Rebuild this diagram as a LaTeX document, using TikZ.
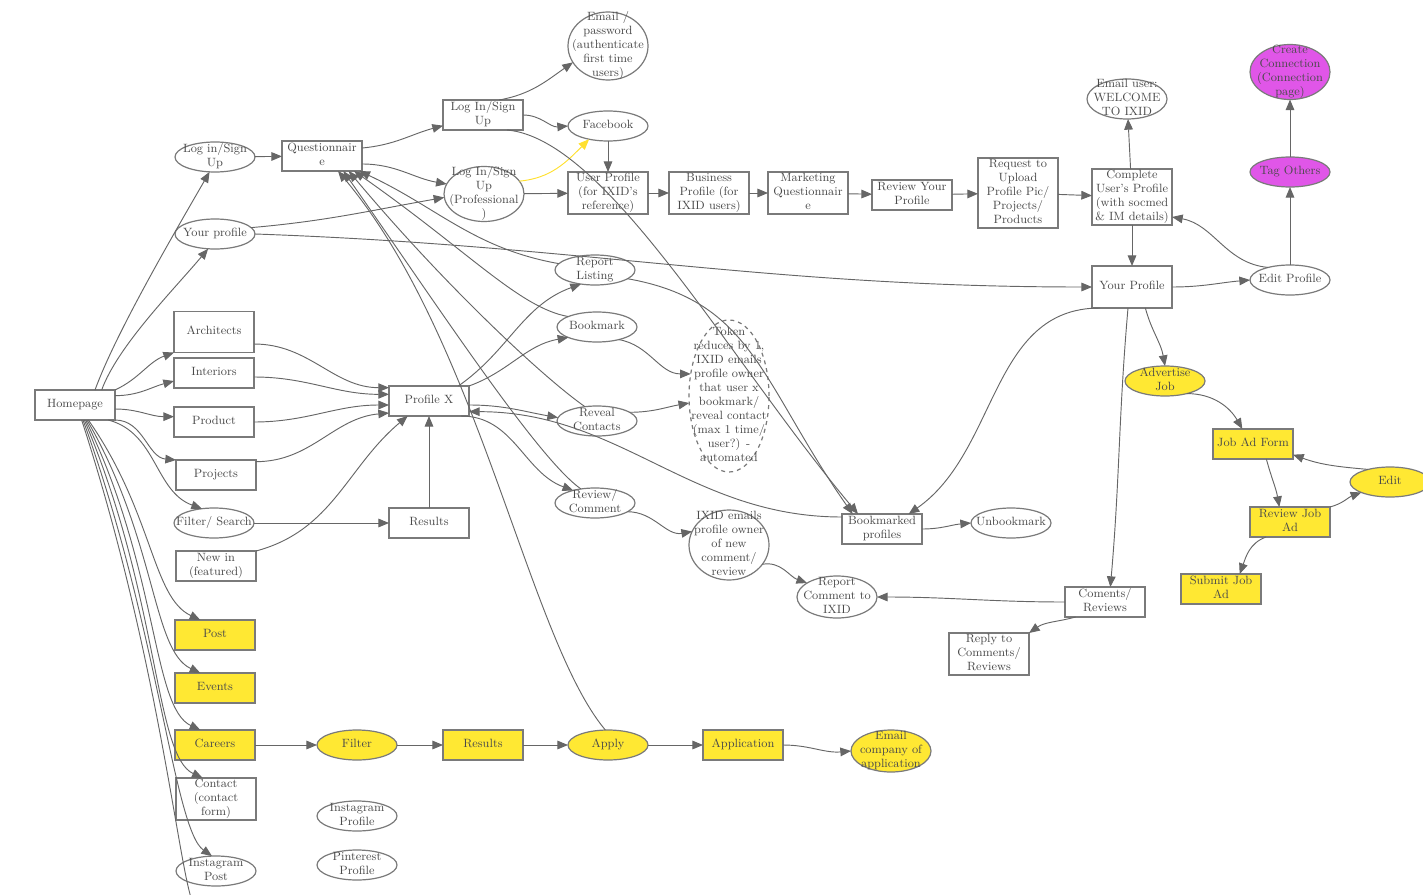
\documentclass[tikz,border=0pt]{standalone}
\usepackage{tikz}
\usetikzlibrary{arrows.meta,shapes.geometric}

\definecolor{TextGray}{HTML}{4A4A4A}
\definecolor{LineGray}{HTML}{7A7A7A}
\definecolor{EdgeGray}{HTML}{666666}
\definecolor{JobYellow}{HTML}{FFE833}
\definecolor{EdgeYellow}{HTML}{FFE030}
\definecolor{TagPink}{HTML}{E056E8}

\newcommand{\nodetext}[1]{\raisebox{-2.3pt}[0pt][0pt]{\makebox[0pt]{\begin{tabular}{@{}c@{}}#1\end{tabular}}}}

\begin{document}
\begin{tikzpicture}[x=0.75pt,y=-0.75pt]
  \tikzset{BoxStyle/.style = {
    shape          = rectangle,
    draw           = LineGray,
    fill           = white,
    line width     = 0.9pt,
    text           = TextGray,
    inner sep      = 0pt,
    outer sep      = 0pt,
    minimum width  = 60pt,
    minimum height = 22.5pt,
    font           = \fontsize{9}{10.5}\selectfont
    }
  }
  \tikzset{OvalStyle/.style  = {BoxStyle, shape = ellipse}}
  \tikzset{YellowBox/.style  = {BoxStyle, fill = JobYellow}}
  \tikzset{YellowOval/.style = {OvalStyle, fill = JobYellow}}
  \tikzset{PinkOval/.style   = {OvalStyle, fill = TagPink}}
  \tikzset{DashOval/.style   = {OvalStyle, dashed}}
  \tikzset{EdgeStyle/.style = {
    draw            = EdgeGray,
    line width      = 0.7pt,
    -{Triangle[length=8pt,width=6.5pt]}
    }
  }
  \tikzset{YellowEdge/.style = {EdgeStyle, draw = EdgeYellow}}

  \useasboundingbox (0,0) rectangle (1423,895);

  % left column
  \node[BoxStyle](Home) at (75, 405) {\nodetext{Homepage}};
  \node[OvalStyle](LogInLeft) at (215, 157) {\nodetext{Log in/Sign\\Up}};
  \node[BoxStyle](Quest) at (322, 156) {\nodetext{Questionnair\\e}};
  \node[OvalStyle](ProfileLeft) at (215, 234) {\nodetext{Your profile}};
  \node[BoxStyle, minimum height=30.75pt](Arch) at (214, 332) {\nodetext{Architects}};
  \node[BoxStyle](Inter) at (214, 373) {\nodetext{Interiors}};
  \node[BoxStyle](Prod) at (214, 422) {\nodetext{Product}};
  \node[BoxStyle](Proj) at (216, 475) {\nodetext{Projects}};
  \node[OvalStyle](Search) at (214, 523) {\nodetext{Filter/ Search}};
  \node[BoxStyle](NewIn) at (216, 566) {\nodetext{New in\\(featured)}};
  \node[YellowBox](Post) at (215, 635) {\nodetext{Post}};
  \node[YellowBox](Events) at (215, 688) {\nodetext{Events}};
  \node[YellowBox](Careers) at (215, 745) {\nodetext{Careers}};
  \node[BoxStyle, minimum height=31.5pt](Contact) at (216, 799) {\nodetext{Contact\\(contact\\form)}};
  \node[OvalStyle](InstaPost) at (216, 871) {\nodetext{Instagram\\Post}};
  \coordinate (OffPage) at (196, 912);

  % careers row
  \node[YellowOval](JobFilter) at (357, 745) {\nodetext{Filter}};
  \node[YellowBox](JobResults) at (483, 745) {\nodetext{Results}};
  \node[YellowOval](Apply) at (608, 745) {\nodetext{Apply}};
  \node[YellowBox](Application) at (743, 745) {\nodetext{Application}};
  \node[YellowOval, minimum height=31.5pt](EmailCompany) at (891, 751) {\nodetext{Email\\company of\\application}};
  \node[OvalStyle](InstaProfile) at (357, 816) {\nodetext{Instagram\\Profile}};
  \node[OvalStyle](PinProfile) at (357, 865) {\nodetext{Pinterest\\Profile}};

  % sign up row
  \node[BoxStyle](LogInBox) at (483, 115) {\nodetext{Log In/Sign\\Up}};
  \node[OvalStyle, minimum height=51pt](EmailPass) at (608, 46) {\nodetext{Email /\\password\\(authenticate\\first time\\users)}};
  \node[OvalStyle](Facebook) at (608, 126) {\nodetext{Facebook}};
  \node[OvalStyle, minimum height=41.25pt](LogInPro) at (484, 194) {\nodetext{Log In/Sign\\Up\\(Professional\\)}};
  \node[BoxStyle, minimum height=31.5pt](UserProfile) at (608, 193) {\nodetext{User Profile\\(for IXID's\\reference)}};
  \node[BoxStyle, minimum height=31.5pt](BizProfile) at (709, 193) {\nodetext{Business\\Profile (for\\IXID users)}};
  \node[BoxStyle, minimum height=31.5pt](MarketQuest) at (808, 193) {\nodetext{Marketing\\Questionnair\\e}};
  \node[BoxStyle](ReviewProfile) at (912, 195) {\nodetext{Review Your\\Profile}};
  \node[BoxStyle, minimum height=52.5pt](Upload) at (1018, 193) {\nodetext{Request to\\Upload\\Profile Pic/\\Projects/\\Products}};
  \node[BoxStyle, minimum height=42pt](Complete) at (1132, 197) {\nodetext{Complete\\User's Profile\\(with socmed\\\& IM details)}};
  \node[OvalStyle, minimum height=30pt](Welcome) at (1127, 99) {\nodetext{Email user:\\WELCOME\\TO IXID}};
  \node[PinkOval, minimum height=41.25pt](Connect) at (1290, 72) {\nodetext{Create\\Connection\\(Connection\\page)}};
  \node[PinkOval](TagOthers) at (1290, 172) {\nodetext{Tag Others}};
  \node[BoxStyle, minimum height=31.5pt](YourProfile) at (1132, 287) {\nodetext{Your Profile}};
  \node[OvalStyle](EditProfile) at (1290, 280) {\nodetext{Edit Profile}};

  % profile actions
  \node[OvalStyle](ReportListing) at (595, 270) {\nodetext{Report\\Listing}};
  \node[OvalStyle](Bookmark) at (597, 327) {\nodetext{Bookmark}};
  \node[BoxStyle](ProfileX) at (429, 401) {\nodetext{Profile X}};
  \node[OvalStyle](Reveal) at (597, 421) {\nodetext{Reveal\\Contacts}};
  \node[OvalStyle](Review) at (595, 503) {\nodetext{Review/\\Comment}};
  \node[BoxStyle](Results) at (429, 523) {\nodetext{Results}};
  \node[DashOval, minimum height=114pt](Token) at (729, 396) {\nodetext{Token\\reduces by 1,\\IXID emails\\profile owner\\that user x\\bookmark/\\reveal contact\\(max 1 time/\\user?) -\\automated}};
  \node[OvalStyle, minimum height=52.5pt](EmailOwner) at (729, 545) {\nodetext{IXID emails\\profile owner\\of new\\comment/\\review}};
  \node[BoxStyle](Bookmarked) at (882, 529) {\nodetext{Bookmarked\\profiles}};
  \node[OvalStyle](Unbookmark) at (1011, 523) {\nodetext{Unbookmark}};
  \node[OvalStyle, minimum height=31.5pt](ReportComment) at (837, 597) {\nodetext{Report\\Comment to\\IXID}};
  \node[BoxStyle](Comments) at (1105, 602) {\nodetext{Coments/\\Reviews}};
  \node[BoxStyle, minimum height=31.5pt](Reply) at (989, 654) {\nodetext{Reply to\\Comments/\\Reviews}};

  % job ads
  \node[YellowOval](Advertise) at (1165, 381) {\nodetext{Advertise\\Job}};
  \node[YellowBox](JobForm) at (1253, 444) {\nodetext{Job Ad Form}};
  \node[YellowOval](EditJob) at (1390, 482) {\nodetext{Edit}};
  \node[YellowBox](ReviewJob) at (1290, 522) {\nodetext{Review Job\\Ad}};
  \node[YellowBox](SubmitJob) at (1221, 589) {\nodetext{Submit Job\\Ad}};

  % homepage fan
  \draw[EdgeStyle] ([xshift=15pt]Home.north) to[out=70, in=240, out distance=45pt, in distance=55pt] (LogInLeft.250);
  \draw[EdgeStyle] ([xshift=20pt]Home.north) to[out=70, in=230, out distance=35pt, in distance=40pt] (ProfileLeft.245);
  \draw[EdgeStyle] (Home.north east) to[out=25, in=200] (Arch.south west);
  \draw[EdgeStyle] ([yshift=7pt]Home.east) to[out=0, in=195] ([yshift=-6pt]Inter.west);
  \draw[EdgeStyle] ([yshift=-3pt]Home.east) to[out=0, in=180] ([yshift=4pt]Prod.west);
  \draw[EdgeStyle] (Home.south east) to[out=0, in=175] (Proj.north west);
  \draw[EdgeStyle] ([xshift=-5pt]Home.south east) to[out=-15, in=160] (Search.130);
  \draw[EdgeStyle] ([xshift=10pt]Home.south) to[out=-55, in=155, out distance=85pt, in distance=40pt] ([xshift=-11pt]Post.north);
  \draw[EdgeStyle] ([xshift=9pt]Home.south) to[out=-60, in=155, out distance=105pt, in distance=40pt] ([xshift=-11pt]Events.north);
  \draw[EdgeStyle] ([xshift=8pt]Home.south) to[out=-64, in=155, out distance=125pt, in distance=40pt] ([xshift=-11pt]Careers.north);
  \draw[EdgeStyle] ([xshift=7pt]Home.south) to[out=-67, in=155, out distance=145pt, in distance=40pt] ([xshift=-10pt]Contact.north);
  \draw[EdgeStyle] ([xshift=6pt]Home.south) to[out=-70, in=145, out distance=165pt, in distance=35pt] (InstaPost.105);
  \draw[EdgeStyle] ([xshift=5pt]Home.south) to[out=-72, in=110, out distance=185pt, in distance=40pt] (OffPage);

  % into profile X
  \draw[EdgeStyle] ([yshift=-9pt]Arch.east) to[out=0, in=180] ([yshift=10pt]ProfileX.west);
  \draw[EdgeStyle] ([yshift=-3pt]Inter.east) to[out=0, in=180] ([yshift=5pt]ProfileX.west);
  \draw[EdgeStyle] (Prod.east) to[out=0, in=180] ([yshift=-3pt]ProfileX.west);
  \draw[EdgeStyle] ([yshift=10pt]Proj.east) to[out=0, in=185] ([yshift=-9pt]ProfileX.west);
  \draw[EdgeStyle] (NewIn.north east) to[out=15, in=220] ([xshift=-16pt]ProfileX.south);
  \draw[EdgeStyle] (Search) -- (Results);
  \draw[EdgeStyle] (Results) -- (ProfileX);

  % out of profile X
  \draw[EdgeStyle] ([xshift=22pt]ProfileX.north) to[out=35, in=200] (ReportListing.225);
  \draw[EdgeStyle] (ProfileX.north east) to[out=20, in=190] (Bookmark.200);
  \draw[EdgeStyle] ([yshift=-3pt]ProfileX.east) to[out=0, in=170] (Reveal.175);
  \draw[EdgeStyle] ([xshift=24pt]ProfileX.south) to[out=0, in=160] (Review.150);

  % back to questionnaire
  \draw[EdgeStyle] (ReportListing.170) to[out=170, in=-25] ([xshift=-2pt]Quest.south east);
  \draw[EdgeStyle] (Bookmark.160) to[out=170, in=-35, out distance=37pt, in distance=105pt] ([xshift=-6pt]Quest.south east);
  \draw[EdgeStyle] (Reveal.130) to[out=145, in=-50, out distance=40pt, in distance=110pt] ([xshift=-10pt]Quest.south east);
  \draw[EdgeStyle] (Review.135) to[out=145, in=-55, out distance=40pt, in distance=120pt] ([xshift=-14pt]Quest.south east);
  \draw[EdgeStyle] (Apply.100) to[out=130, in=-50, out distance=90pt, in distance=165pt] ([xshift=-18pt]Quest.south east);

  % sign up flow
  \draw[EdgeStyle] (LogInLeft) -- (Quest);
  \draw[EdgeStyle] ([yshift=6pt]Quest.east) to[out=5, in=195] ([yshift=-8pt]LogInBox.west);
  \draw[EdgeStyle] ([yshift=-6pt]Quest.east) to[out=0, in=170] (LogInPro.165);
  \draw[EdgeStyle] (ProfileLeft.10) to[out=5, in=190] (LogInPro.185);
  \draw[EdgeStyle] (ProfileLeft.east) to[out=-2, in=180] (YourProfile.west);
  \draw[EdgeStyle] ([xshift=12pt]LogInBox.north) to[out=10, in=215] (EmailPass.205);
  \draw[EdgeStyle] (LogInBox.east) to[out=0, in=185] (Facebook.west);
  \draw[YellowEdge] (LogInPro.20) to[out=5, in=225] (Facebook.215);
  \draw[EdgeStyle] (Facebook) -- (UserProfile);
  \draw[EdgeStyle] (LogInPro) -- (UserProfile);
  \draw[EdgeStyle] (UserProfile) -- (BizProfile);
  \draw[EdgeStyle] (BizProfile) -- (MarketQuest);
  \draw[EdgeStyle] (MarketQuest) -- (ReviewProfile);
  \draw[EdgeStyle] (ReviewProfile) -- (Upload);
  \draw[EdgeStyle] (Upload) -- (Complete);
  \draw[EdgeStyle] (Complete) -- (Welcome);
  \draw[EdgeStyle] (Complete) -- (YourProfile);
  \draw[EdgeStyle] (YourProfile.east) to[out=0, in=185] (EditProfile.west);
  \draw[EdgeStyle] (EditProfile.150) to[out=175, in=-10] ([yshift=-15pt]Complete.east);
  \draw[EdgeStyle] (EditProfile) -- (TagOthers);
  \draw[EdgeStyle] (TagOthers) -- (Connect);

  % bookmarks
  \draw[EdgeStyle] ([xshift=-12pt]LogInBox.south east) to[out=-5, in=130, out distance=75pt, in distance=150pt] ([xshift=-18pt]Bookmarked.north);
  \draw[EdgeStyle] (ReportListing.345) to[out=-10, in=125, in distance=120pt] ([xshift=-22pt]Bookmarked.north);
  \draw[EdgeStyle] ([xshift=-24pt]YourProfile.south) to[out=180, in=35] ([xshift=20pt]Bookmarked.north);
  \draw[EdgeStyle] (Bookmarked.east) to[out=0, in=185] (Unbookmark.west);
  \draw[EdgeStyle] ([yshift=9pt]Bookmarked.west) to[out=180, in=0] ([yshift=-8pt]ProfileX.east);

  % token and emails
  \draw[EdgeStyle] (Bookmark.330) to[out=-10, in=180] (Token.150);
  \draw[EdgeStyle] (Reveal.15) to[out=0, in=190] (Token.190);
  \draw[EdgeStyle] (Review.345) to[out=0, in=190] (EmailOwner.160);
  \draw[EdgeStyle] (EmailOwner.330) to[out=10, in=160] (ReportComment.155);

  % your profile
  \draw[EdgeStyle] ([xshift=10pt]YourProfile.south) to[out=-75, in=100] (Advertise.north);
  \draw[EdgeStyle] ([xshift=-3pt]YourProfile.south) to[out=-95, in=85] ([xshift=4pt]Comments.north);
  \draw[EdgeStyle] (Comments.west) to[out=180, in=0] (ReportComment.east);
  \draw[EdgeStyle] ([xshift=-22pt]Comments.south) to[out=195, in=35] (Reply.north east);

  % job ad flow
  \draw[EdgeStyle] (Advertise.330) to[out=0, in=120] ([xshift=-8pt]JobForm.north);
  \draw[EdgeStyle] ([xshift=10pt]JobForm.south) to[out=-75, in=100] ([xshift=-8pt]ReviewJob.north);
  \draw[EdgeStyle] (ReviewJob.north east) to[out=15, in=200] (EditJob.200);
  \draw[EdgeStyle] (EditJob.150) to[out=175, in=-20] ([yshift=-8pt]JobForm.east);
  \draw[EdgeStyle] ([xshift=-18pt]ReviewJob.south) to[out=200, in=70] ([xshift=14pt]SubmitJob.north);

  % careers flow
  \draw[EdgeStyle] (Careers) -- (JobFilter);
  \draw[EdgeStyle] (JobFilter) -- (JobResults);
  \draw[EdgeStyle] (JobResults) -- (Apply);
  \draw[EdgeStyle] (Apply) -- (Application);
  \draw[EdgeStyle] (Application.east) to[out=0, in=185] (EmailCompany.west);
\end{tikzpicture}
\end{document}
